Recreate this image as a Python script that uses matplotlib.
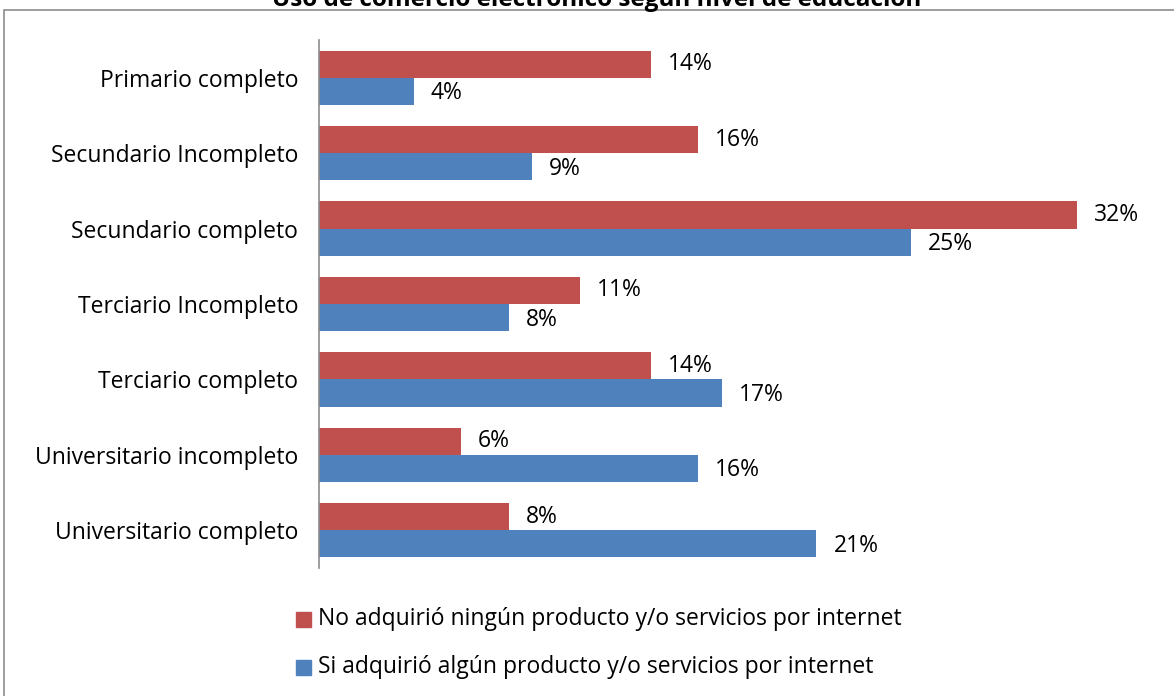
import numpy as np
import matplotlib.pyplot as plt
from matplotlib.patches import Rectangle

# ==================== DATA ====================
categories = [
    "Primario completo",
    "Secundario Incompleto",
    "Secundario completo",
    "Terciario Incompleto",
    "Terciario completo",
    "Universitario incompleto",
    "Universitario completo",
]
no_adquirio = [14, 16, 32, 11, 14, 6, 8]
si_adquirio = [4, 9, 25, 8, 17, 16, 21]

series_labels = [
    "No adquirió ningún producto y/o servicios por internet",
    "Si adquirió algún producto y/o servicios por internet",
]
title = "Uso de comercio electrónico según nivel de educación"

red = "#C0504D"
blue = "#4F81BD"
fs = 16.5

plt.rcParams['font.family'] = ['Open Sans', 'DejaVu Sans']

W, H = 1174, 696
fig = plt.figure(figsize=(W / 100, H / 100), dpi=100)

# plot area in pixel units
left, top, bottom, right = 319, 40, 568, 1148
ax = fig.add_axes([left / W, 1 - bottom / H, (right - left) / W, (bottom - top) / H])

n = len(categories)
y = np.arange(n)
h = 0.36
ax.barh(y - h / 2, no_adquirio, height=h, color=red)
ax.barh(y + h / 2, si_adquirio, height=h, color=blue)

ax.set_ylim(n - 0.5, -0.5)
ax.set_xlim(0, (right - left) / 23.69)

ax.set_yticks(y)
ax.set_yticklabels(categories, fontsize=fs)
ax.tick_params(axis='y', length=0, pad=15)
ax.set_xticks([])

for spine in ['top', 'right', 'bottom']:
    ax.spines[spine].set_visible(False)
ax.spines['left'].set_color('#8c8c8c')
ax.spines['left'].set_linewidth(1.2)

for yi, v in zip(y, no_adquirio):
    ax.annotate(f"{v}%", (v, yi - h / 2), xytext=(17, 0), textcoords='offset pixels',
                va='center', ha='left', fontsize=fs)
for yi, v in zip(y, si_adquirio):
    ax.annotate(f"{v}%", (v, yi + h / 2), xytext=(17, -2), textcoords='offset pixels',
                va='center', ha='left', fontsize=fs)

# legend drawn as squares + text
for ly, lbl, col in [(619, series_labels[0], red), (667, series_labels[1], blue)]:
    fig.patches.append(Rectangle((296 / W, 1 - (ly + 8) / H), 15 / W, 15 / H,
                                 transform=fig.transFigure, color=col))
    fig.text(318 / W, 1 - ly / H, lbl, fontsize=fs, va='center', ha='left')

# chart frame
fig.patches.append(Rectangle((4 / W, -0.05), 1.1, 1 - 10 / H + 0.05,
                             transform=fig.transFigure, fill=False,
                             edgecolor='#8c8c8c', linewidth=1.2))

fig.text(597 / W, 1 - 6 / H, title, fontsize=17.5, fontweight='bold',
         ha='center', va='baseline')

fig.savefig("out.png", dpi=100)
